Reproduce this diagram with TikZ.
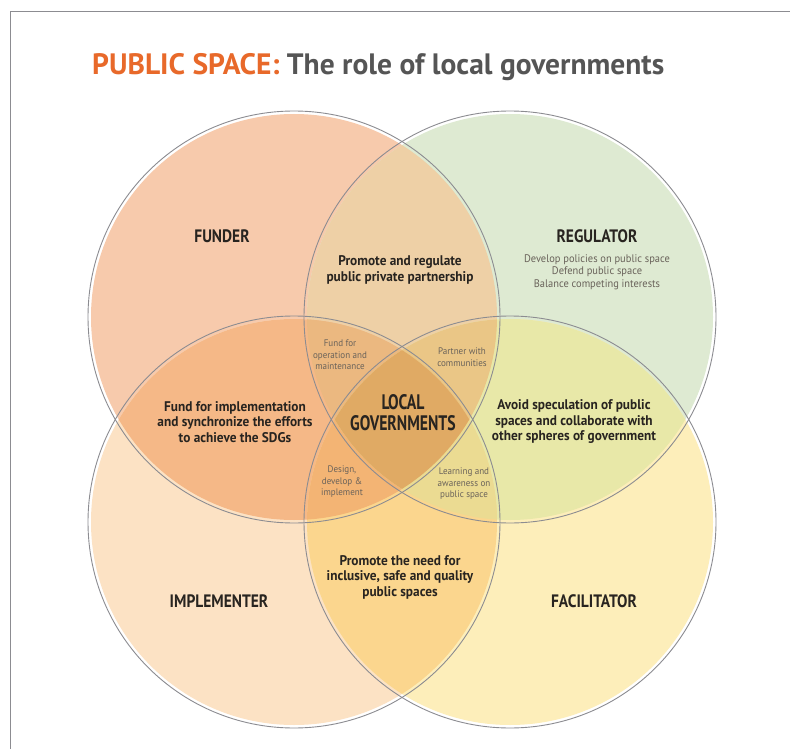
\documentclass[tikz,border=0pt]{standalone}
\usepackage{fontspec}
\setmainfont{PT Sans}
\newfontfamily\vennfont{PT Sans}[FakeStretch=0.75]
\newfontfamily\rolefont{PT Sans}[FakeStretch=0.86]
\newfontfamily\notefont{PT Sans}[FakeStretch=0.95]
\usetikzlibrary{positioning}
% single areas
\definecolor{funderfill}{RGB}{247,202,172}
\definecolor{regulatorfill}{RGB}{222,234,210}
\definecolor{implementerfill}{RGB}{252,226,196}
\definecolor{facilitatorfill}{RGB}{253,238,186}
% overlaps
\definecolor{frfill}{RGB}{238,208,166}
\definecolor{fifill}{RGB}{245,184,135}
\definecolor{ryfill}{RGB}{232,232,168}
\definecolor{iyfill}{RGB}{251,214,142}
\definecolor{frifill}{RGB}{235,184,128}
\definecolor{fryfill}{RGB}{234,198,134}
\definecolor{fiyfill}{RGB}{243,180,116}
\definecolor{riyfill}{RGB}{235,219,146}
\definecolor{centrefill}{RGB}{224,170,100}
\definecolor{ringline}{RGB}{140,140,145}
\definecolor{titleorange}{RGB}{232,105,42}
\definecolor{titlegray}{RGB}{85,85,85}
\definecolor{labeltext}{RGB}{40,36,32}
\definecolor{smalltext}{RGB}{105,98,90}
\newcommand{\fillrad}{203pt}
\newcommand{\ringrad}{206pt}
\tikzset{
  ring/.style={draw=ringline,line width=0.9pt},
  rolelabel/.style={font=\rolefont\bfseries\fontsize{18}{20}\selectfont,text=labeltext},
  roletext/.style={font=\notefont\bfseries\fontsize{14}{15.5}\selectfont,text=labeltext,align=center},
  notetext/.style={font=\notefont\fontsize{11}{12.5}\selectfont,text=smalltext,align=center},
  tinytext/.style={font=\notefont\fontsize{9.5}{11.5}\selectfont,text=smalltext,align=center}
}

\begin{document}
\begin{tikzpicture}[x=1pt,y=-1pt]
\useasboundingbox (0,0) rectangle (790,749);
\fill[white] (0,0) rectangle (790,749);
% frame
\draw[ringline,line width=1.3pt] (10.5,749) -- (10.5,11.5) -- (790,11.5);
% title
\node[anchor=base west,inner sep=0pt,font=\bfseries\fontsize{29.5}{31}\selectfont] (title) at (92,75)
  {\textcolor{titleorange}{PUBLIC SPACE:} \textcolor{titlegray}{The role of local governments}};
% circle centres
\coordinate (cF) at (294,317);
\coordinate (cR) at (510,317);
\coordinate (cI) at (294,522);
\coordinate (cY) at (510,522);
% single areas
\fill[funderfill] (cF) circle (\fillrad);
\fill[regulatorfill] (cR) circle (\fillrad);
\fill[implementerfill] (cI) circle (\fillrad);
\fill[facilitatorfill] (cY) circle (\fillrad);
% two circles
\begin{scope} \clip (cF) circle (\fillrad); \fill[frfill] (cR) circle (\fillrad); \end{scope}
\begin{scope} \clip (cF) circle (\fillrad); \fill[fifill] (cI) circle (\fillrad); \end{scope}
\begin{scope} \clip (cR) circle (\fillrad); \fill[ryfill] (cY) circle (\fillrad); \end{scope}
\begin{scope} \clip (cI) circle (\fillrad); \fill[iyfill] (cY) circle (\fillrad); \end{scope}
% three circles
\begin{scope} \clip (cF) circle (\fillrad); \clip (cR) circle (\fillrad); \fill[frifill] (cI) circle (\fillrad); \end{scope}
\begin{scope} \clip (cF) circle (\fillrad); \clip (cR) circle (\fillrad); \fill[fryfill] (cY) circle (\fillrad); \end{scope}
\begin{scope} \clip (cF) circle (\fillrad); \clip (cI) circle (\fillrad); \fill[fiyfill] (cY) circle (\fillrad); \end{scope}
\begin{scope} \clip (cR) circle (\fillrad); \clip (cI) circle (\fillrad); \fill[riyfill] (cY) circle (\fillrad); \end{scope}
% all four
\begin{scope} \clip (cF) circle (\fillrad); \clip (cR) circle (\fillrad); \clip (cI) circle (\fillrad); \fill[centrefill] (cY) circle (\fillrad); \end{scope}
% outlines
\draw[ring] (cF) circle (\ringrad);
\draw[ring] (cR) circle (\ringrad);
\draw[ring] (cI) circle (\ringrad);
\draw[ring] (cY) circle (\ringrad);
% roles
\node[rolelabel] (funder) at (222,236) {FUNDER};
\node[rolelabel] (regulator) at (597,236) {REGULATOR};
\node[rolelabel] (implementer) at (219,601) {IMPLEMENTER};
\node[rolelabel] (facilitator) at (594,601) {FACILITATOR};
\node[rolelabel,align=center,font=\vennfont\bfseries\fontsize{21}{21}\selectfont] (localgov) at (403,413) {LOCAL\\GOVERNMENTS};
% overlaps of two
\node[roletext] (partnership) at (400,270) {Promote and regulate\\public private partnership};
\node[roletext] (implementation) at (235,422) {Fund for implementation\\and synchronize the efforts\\to achieve the SDGs};
\node[roletext] (speculation) at (574,422) {Avoid speculation of public\\spaces and collaborate with\\other spheres of government};
\node[roletext] (quality) at (400,577) {Promote the need for\\inclusive, safe and quality\\public spaces};
\node[notetext] (policies) at (597,272) {Develop policies on public space\\Defend public space\\Balance competing interests};
% overlaps of three
\node[tinytext] (operation) at (340,355) {Fund for\\operation and\\maintenance};
\node[tinytext] (partner) at (462,357) {Partner with\\communities};
\node[tinytext] (design) at (342,482) {Design,\\develop \&\\implement};
\node[tinytext] (learning) at (464,484) {Learning and\\awareness on\\public space};
\end{tikzpicture}
\end{document}
